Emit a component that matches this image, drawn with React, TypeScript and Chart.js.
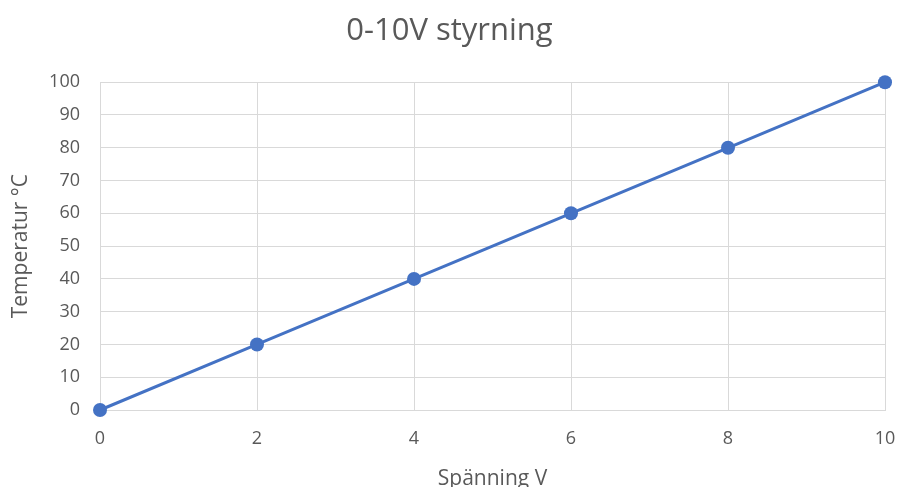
import React, { useEffect, useRef } from "react";
import { Chart, registerables } from "chart.js";

Chart.register(...registerables);

const voltages = [0, 2, 4, 6, 8, 10];
const temperatures = [0, 20, 40, 60, 80, 100];
const chartTitle = "0-10V styrning";
const xTitle = "Spänning V";
const yTitle = "Temperatur °C";

const FONT = "'Open Sans', 'Liberation Sans', sans-serif";
const TEXT = "#595959";
const GRID = "#D9D9D9";

export default function App() {
  const ref = useRef<HTMLCanvasElement | null>(null);

  useEffect(() => {
    if (!ref.current) return;
    const chart = new Chart(ref.current, {
      type: "line",
      data: {
        datasets: [
          {
            data: voltages.map((v, i) => ({ x: v, y: temperatures[i] })),
            borderColor: "#4472C4",
            backgroundColor: "#4472C4",
            borderWidth: 3,
            pointRadius: 7,
            pointHoverRadius: 7,
            pointBorderWidth: 0,
            clip: false as any,
            tension: 0,
          },
        ],
      },
      options: {
        animation: false,
        responsive: false,
        layout: { padding: { left: 0, right: 0, top: 0, bottom: 0 } },
        plugins: {
          legend: { display: false },
          tooltip: { enabled: false },
          title: {
            display: true,
            text: chartTitle,
            color: TEXT,
            font: { family: FONT, size: 31, weight: "normal", lineHeight: 1.2 },
            padding: { top: 13, bottom: 32 },
          },
        },
        scales: {
          x: {
            type: "linear",
            min: 0,
            max: 10,
            ticks: {
              stepSize: 2,
              color: TEXT,
              font: { family: FONT, size: 18 },
              padding: 18,
            },
            grid: { color: GRID, lineWidth: 1, drawTicks: false },
            border: { color: GRID, width: 1 },
            title: {
              display: true,
              text: xTitle,
              color: TEXT,
              font: { family: FONT, size: 21, lineHeight: 1 },
              padding: { top: 0, bottom: -3 },
            },
            afterFit: (s: any) => {
              s.height = 77;
              s.paddingRight = 14;
              s.paddingLeft = 0;
            },
          },
          y: {
            type: "linear",
            min: 0,
            max: 100,
            ticks: {
              stepSize: 10,
              color: TEXT,
              font: { family: FONT, size: 18 },
              padding: 20,
            },
            grid: { color: GRID, lineWidth: 1, drawTicks: false },
            border: { color: GRID, width: 1 },
            title: {
              display: true,
              text: yTitle,
              color: TEXT,
              font: { family: FONT, size: 21, lineHeight: 1 },
              padding: { top: 11, bottom: 0 },
            },
            afterFit: (s: any) => {
              s.width = 100;
            },
          },
        },
      },
    });
    return () => chart.destroy();
  }, []);

  return (
    <div style={{ position: "fixed", left: 0, top: 0, width: 899, height: 487, background: "#fff" }}>
      <canvas ref={ref} width={899} height={487} style={{ display: "block" }} />
    </div>
  );
}
